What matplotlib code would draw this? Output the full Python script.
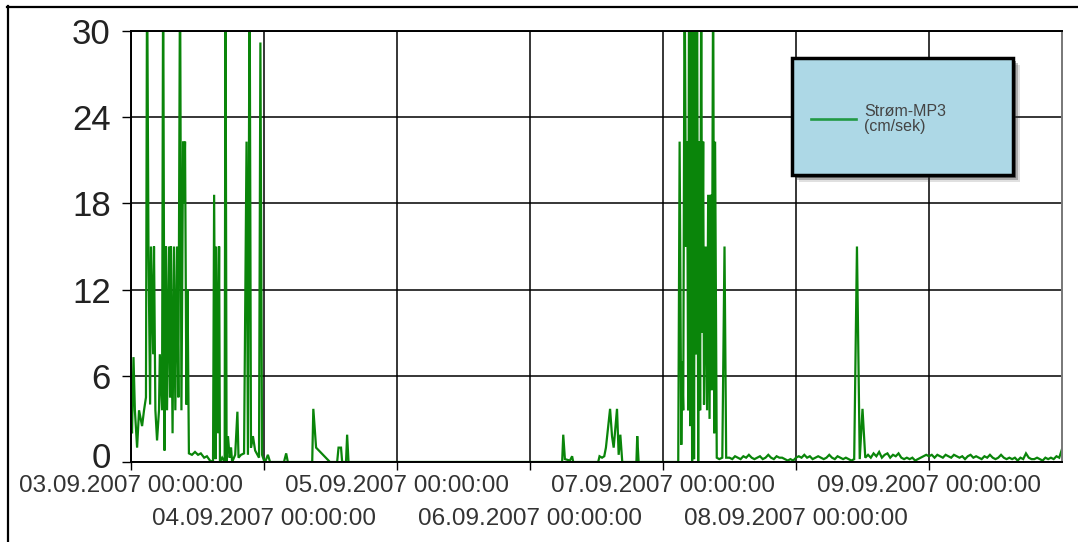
import numpy as np
import matplotlib.pyplot as plt
import matplotlib.transforms as mtransforms
from matplotlib import font_manager
from matplotlib.lines import Line2D
from matplotlib.patches import Rectangle

# Strøm-MP3 (cm/sek), tid i timer fra 03.09.2007 00:00:00
timer_aktiv = [0, 0.18, 0.45, 0.7, 1.1, 1.45, 2.0, 2.35, 2.7, 2.9, 3.15, 3.45, 3.6, 4.0, 4.15,
               4.4, 4.7, 5.05, 5.2, 5.6, 5.8, 6.05, 6.3, 6.5, 6.85, 7.05, 7.2, 7.5, 7.75, 8.0,
               8.3, 8.55, 8.85, 9.1, 9.4, 9.55, 9.75, 10.0, 10.2, 10.45, 11.0, 11.55, 12.1, 12.6,
               13.2, 13.7, 14.25, 14.8, 15.0, 15.25, 15.4, 15.7, 15.9, 16.05, 16.45, 16.9, 17.05,
               17.25, 17.5, 17.8, 18.05, 18.25, 18.8, 19.2, 19.4, 19.85, 20.4, 20.85, 21.1, 21.4,
               21.65, 22.0, 22.4, 23.1, 23.35, 23.65, 24.0,
               24.2, 24.7, 25.1, 27.6, 28.0, 28.3, 32.7, 32.9, 33.4, 35.9, 37.2, 37.45, 37.9, 38.1,
               38.8, 39.0, 39.25,
               77.8, 78.0, 78.3, 79.2, 79.6, 79.8, 84.3, 84.55, 85.0, 85.4, 85.7, 86.45, 86.8,
               87.1, 87.7, 88.0, 88.3, 88.65, 91.2, 91.35, 91.6, 96.2,
               98.75, 99.0, 99.3, 99.45, 99.65, 99.9, 100.15, 100.35, 100.55, 100.7, 100.9, 101.1,
               101.25, 101.45, 101.6, 101.8, 102.0, 102.15, 102.35, 102.5, 102.7, 102.9, 103.05,
               103.25, 103.4, 103.7, 103.95, 104.15, 104.4, 104.6, 104.8, 105.05, 105.25, 105.4,
               105.7, 106.15, 106.7, 107.1, 107.4]

strom_aktiv = [3.6, 2.0, 7.3, 3.6, 1.0, 3.6, 2.5, 3.6, 4.5, 35, 15, 4.0, 15, 7.5, 15,
               3.6, 1.5, 3.6, 7.5, 3.6, 35, 0.8, 15, 3.6, 15, 4.5, 15, 2.0, 15, 3.6,
               15, 4.5, 35, 3.6, 22.3, 18, 22.3, 4.0, 12, 0.6, 0.5, 0.7, 0.5, 0.6,
               0.3, 0.4, 0.1, 0.0, 18.6, 0.2, 15, 2.0, 15, 0.0, 0.3, 0.0, 35,
               0.0, 1.8, 0.3, 1.0, 0.0, 0.5, 3.5, 0.3, 0.5, 0.6, 22.3, 0.5, 35,
               1.0, 1.8, 0.8, 0.3, 29.2, 0.5, 0.1,
               0.0, 0.5, 0.0, 0.0, 0.6, 0.0, 0.0, 3.7, 1.0, 0.0, 0.0, 1.0, 1.0, 0.0,
               0.0, 1.9, 0.0,
               0.0, 1.9, 0.2, 0.1, 0.4, 0.0, 0.0, 0.4, 0.3, 0.4, 1.0, 3.7, 1.8,
               1.0, 3.7, 0.5, 1.9, 0.0, 0.0, 1.8, 0.0, 0.0,
               0.0, 22.3, 1.2, 7.0, 3.6, 35, 15, 22.3, 3.6, 35, 2.5, 35,
               0.0, 35, 0.2, 35, 7.5, 35, 0.0, 22.3, 3.6, 35, 9.0,
               22.3, 4.0, 15, 3.6, 18.6, 3.0, 18.6, 5.0, 35, 2.0, 22.3,
               0.3, 0.2, 0.3, 15, 0.3]

# halvtimesverdier fra 08.09.2007 12:00 til 10.09.2007 00:00
tid_rolig_start = 108.0
strom_rolig = [0.3, 0.2, 0.4, 0.3, 0.2, 0.4, 0.3, 0.5, 0.3, 0.2,
               0.3, 0.4, 0.2, 0.3, 0.5, 0.3, 0.2, 0.4, 0.3, 0.3,
               0.2, 0.1, 0.2, 0.1, 0.3, 0.4, 0.3, 0.5, 0.3, 0.4,
               0.2, 0.3, 0.4, 0.3, 0.2, 0.3, 0.5, 0.3, 0.2, 0.4,
               0.3, 0.2, 0.3, 0.2, 0.1, 0.2, 15.0, 0.2, 3.7, 0.3,
               0.5, 0.3, 0.6, 0.4, 0.7, 0.3, 0.5, 0.6, 0.3, 0.5,
               0.4, 0.6, 0.3, 0.2, 0.3, 0.2, 0.3, 0.1, 0.2, 0.3,
               0.4, 0.5, 0.4, 0.5, 0.3, 0.5, 0.4, 0.3, 0.5, 0.4,
               0.3, 0.5, 0.4, 0.3, 0.4, 0.2, 0.4, 0.5, 0.3, 0.4,
               0.3, 0.2, 0.4, 0.3, 0.5, 0.3, 0.2, 0.3, 0.5, 0.3,
               0.2, 0.3, 0.2, 0.3, 0.1, 0.3, 0.2, 0.6, 0.3, 0.2,
               0.2, 0.3, 0.2, 0.1, 0.3, 0.2, 0.3, 0.2, 0.4, 0.3, 0.9]

x_etiketter = ["03.09.2007 00:00:00", "04.09.2007 00:00:00", "05.09.2007 00:00:00",
               "06.09.2007 00:00:00", "07.09.2007 00:00:00", "08.09.2007 00:00:00",
               "09.09.2007 00:00:00"]
y_verdier = [0, 6, 12, 18, 24, 30]

timer_rolig = tid_rolig_start + 0.5 * np.arange(len(strom_rolig))
timer = np.concatenate([timer_aktiv, timer_rolig])
strom = np.concatenate([strom_aktiv, strom_rolig])

W, H = 1078, 542
fig = plt.figure(figsize=(W / 100, H / 100), dpi=100)

def fx(px):
    return px / W

def fy(py):
    return 1 - py / H

ax = fig.add_axes([fx(131), fy(462), fx(1062) - fx(131), fy(31) - fy(462)])

ax.plot(timer, strom, color='#0a850a', lw=1.6, solid_joinstyle='miter')
ax.set_xlim(0, 168)
ax.set_ylim(0, 30)

navn = {f.name for f in font_manager.fontManager.ttflist}
if 'Liberation Sans Narrow' in navn:
    xfont, xsize = 'Liberation Sans Narrow', 21
else:
    xfont, xsize = 'Liberation Sans', 17.5

ax.set_yticks(y_verdier)
ax.set_yticklabels([str(v) for v in y_verdier], fontsize=25, color='#222222',
                   family='Liberation Sans')
ax.set_xticks(np.arange(len(x_etiketter)) * 24)
ax.set_xticklabels(x_etiketter, fontsize=xsize, color='#333333', family=xfont)
ax.tick_params(axis='y', direction='out', length=6.5, width=1, pad=8, colors='black',
               labelcolor='#222222')
ax.tick_params(axis='x', direction='out', length=6, width=1, colors='black',
               labelcolor='#333333')
for i, t in enumerate(ax.xaxis.get_major_ticks()):
    t.set_pad(3 if i % 2 == 0 else 27)

# "0" sitter litt over streken
null_lbl = ax.get_yticklabels()[0]
null_lbl.set_transform(null_lbl.get_transform() +
                       mtransforms.ScaledTranslation(0, 5 / 72, fig.dpi_scale_trans))

ax.grid(True, color='black', lw=1.1)
ax.set_axisbelow(True)
for side in ['left', 'bottom', 'top']:
    ax.spines[side].set_color('black')
    ax.spines[side].set_linewidth(1.4)
ax.spines['right'].set_color('#777777')
ax.spines['right'].set_linewidth(1.4)

# legende med skygge
lx0, lx1, ly0, ly1 = 792, 1013, 58, 175
for off, a in [(7, 0.15), (5, 0.3), (3, 0.5)]:
    fig.add_artist(Rectangle((fx(lx0 + off), fy(ly1 + off)), fx(lx1 - lx0), fy(ly0) - fy(ly1),
                             transform=fig.transFigure, facecolor='#333333', edgecolor='none',
                             alpha=a, zorder=5))
fig.add_artist(Rectangle((fx(lx0), fy(ly1)), fx(lx1 - lx0), fy(ly0) - fy(ly1),
                         transform=fig.transFigure, facecolor='#add8e6', edgecolor='black',
                         lw=2.5, zorder=6))
fig.add_artist(Line2D([fx(811), fx(856)], [fy(119), fy(119)], transform=fig.transFigure,
                      color='#229944', lw=1.9, zorder=7))
fig.text(fx(864), fy(119), "Strøm-MP3\n(cm/sek)", fontsize=11.5, color='#444444',
         family='Liberation Sans', va='center', ha='left', linespacing=1.05, zorder=7)

# ramme rundt figuren
fig.add_artist(Line2D([fx(7.5), fx(7.5)], [fy(6), 0], transform=fig.transFigure,
                      color='black', lw=1.6))
fig.add_artist(Line2D([fx(7), 1], [fy(6.5), fy(6.5)], transform=fig.transFigure,
                      color='black', lw=1.6))

fig.savefig('out.png', dpi=100)
